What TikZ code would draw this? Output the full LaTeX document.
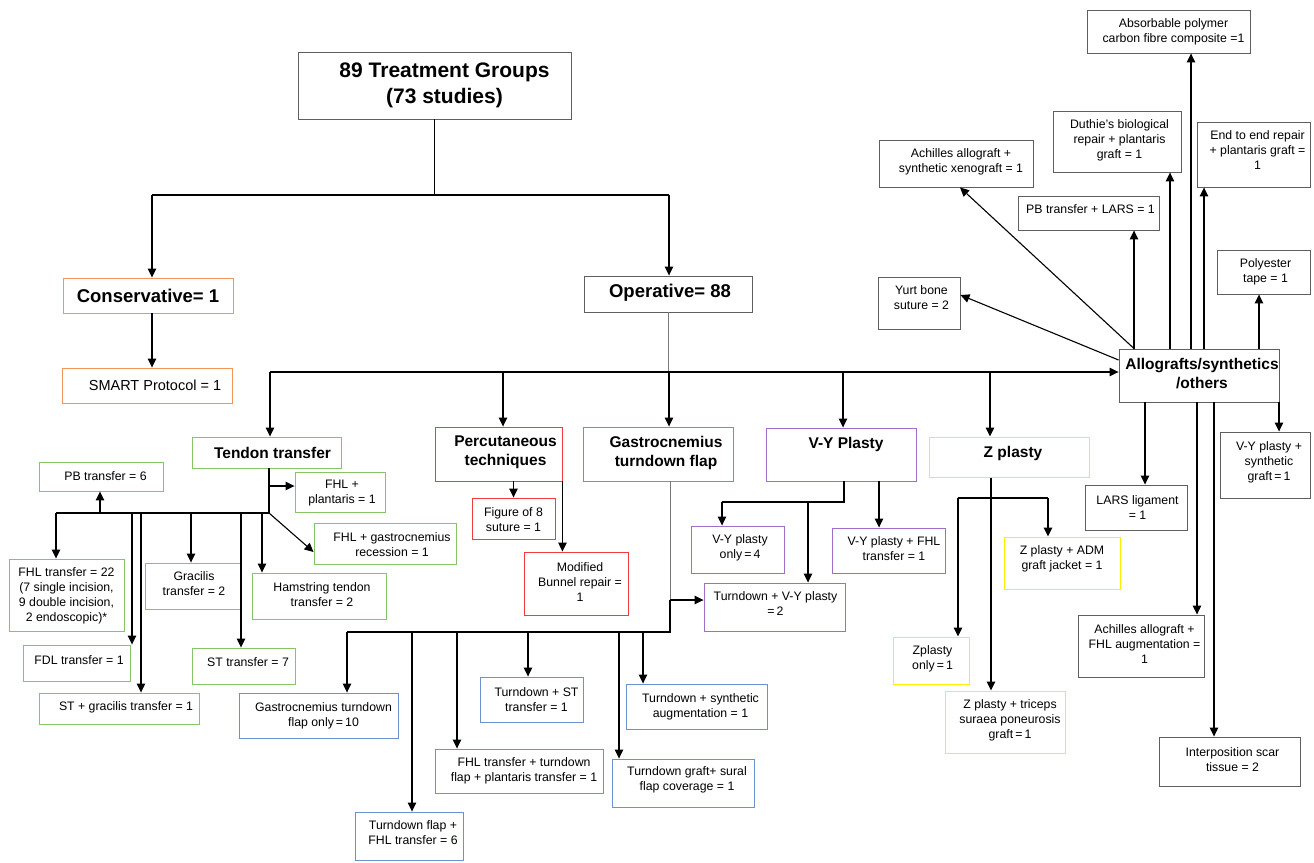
\documentclass[tikz,border=0pt]{standalone}
\usepackage{fontspec}
\setmainfont{Liberation Sans}
\usetikzlibrary{arrows.meta}
\definecolor{cgreen}{RGB}{135,195,105}
\definecolor{cred}{RGB}{240,60,60}
\definecolor{cblue}{RGB}{110,145,210}
\definecolor{cpurple}{RGB}{160,110,200}
\definecolor{cyellow}{RGB}{250,240,0}
\definecolor{corange}{RGB}{240,150,90}
\definecolor{cgray}{RGB}{95,95,95}
\definecolor{cline}{RGB}{120,120,120}
\newcommand\bx[9]{%
 \node[box,#1,minimum width={(#5-#3)*1pt},minimum height={(#6-#4)*1pt}] (#2) at ({(#3+#5)/2},{(#4+#6)/2}) {};
 \node[#1,txt] (#2-t) at ({(#3+#5)/2+#7},{(#4+#6)/2+#8}) {#9};}
\begin{document}
\begin{tikzpicture}[x=1pt,y=-1pt,font=\fontsize{12.3}{15}\selectfont,
 box/.style={draw,line width=0.9pt,inner sep=0pt},
 txt/.style={draw=none,fill=none,inner sep=0pt,align=center},
 gbox/.style={draw=cgreen},rbox/.style={draw=cred},bbox/.style={draw=cblue},
 pbox/.style={draw=cpurple},ybox/.style={draw=cyellow,line width=1pt},obox/.style={draw=corange},
 kbox/.style={draw=cgray},
 head/.style={font=\fontsize{15.5}{19}\selectfont\bfseries},
 mid/.style={font=\fontsize{18.5}{22}\selectfont\bfseries},
 big/.style={font=\fontsize{21}{26}\selectfont\bfseries},
 smart/.style={font=\fontsize{14.5}{17}\selectfont},
 ln/.style={line width=1.1pt},
 gln/.style={line width=0.8pt,draw=cline},
 arr/.style={line width=1.1pt,-{Triangle[length=9pt,width=8.5pt]}}]
\fill[white] (0,0) rectangle (1314,862);
\useasboundingbox (0,0) rectangle (1314,862);
% top levels
\bx{kbox,big}{root}{298}{52}{571}{119}{10}{0}{89 Treatment Groups\\(73 studies)}
\bx{obox,mid}{cons}{63}{278}{233}{313}{0}{0}{Conservative= 1}
\bx{obox,smart}{smart}{62}{368}{232}{403}{8}{0}{SMART Protocol = 1}
\bx{kbox,mid}{oper}{584}{276}{752}{312}{2}{-1}{Operative= 88}
\bx{gbox,head}{tendon}{192}{437}{341}{468}{6}{0}{Tendon transfer}
\bx{rbox,head}{percut}{435}{427}{562}{481}{7}{-1.5}{Percutaneous\\techniques}
\bx{bbox,head}{gastro}{583}{427}{733}{481}{8}{-1.5}{Gastrocnemius\\turndown flap}
\bx{pbox,head}{vyp}{766}{428}{916}{481}{5}{-10}{V-Y Plasty}
\bx{ybox,head}{zp}{929}{437}{1089}{477}{4}{-4}{Z plasty}
\bx{kbox,head}{allo}{1119}{349}{1279}{402}{3}{-1.5}{Allografts/synthetics\\/others}
% tendon transfer children
\bx{gbox}{pb}{39}{462}{163}{491}{4.5}{0}{PB transfer = 6}
\bx{gbox}{fhlp}{295}{472}{385}{512}{2}{1}{FHL +\\plantaris = 1}
\bx{gbox}{fhlt}{9}{559}{124}{631}{0}{0.5}{FHL transfer = 22\\(7 single incision,\\9 double incision,\\2 endoscopic)*}
\bx{gbox}{fdl}{23}{645}{130}{681}{2.5}{-3}{FDL transfer = 1}
\bx{gbox}{stg}{39}{693}{199}{724}{7}{-1.5}{ST + gracilis transfer = 1}
\bx{gbox}{grac}{145}{563}{240}{609}{1.5}{-2}{Gracilis\\transfer = 2}
\bx{gbox}{st}{192}{648}{295}{684}{4.5}{-4}{ST transfer = 7}
\bx{gbox}{ham}{252}{573}{386}{619}{3}{-1}{Hamstring tendon\\transfer = 2}
\bx{gbox}{fhlg}{314}{523}{456}{564}{7}{1}{FHL + gastrocnemius\\recession = 1}
% percutaneous children
\bx{rbox}{fig8}{472}{498}{555}{539}{0}{1.5}{Figure of 8\\suture = 1}
\bx{rbox}{bunnel}{524}{552}{628}{615}{4}{-1.5}{Modified\\Bunnel repair =\\1}
% gastrocnemius children
\bx{bbox}{gonly}{239}{693}{398}{738}{5}{0}{Gastrocnemius turndown\\flap only\,=\,10}
\bx{bbox}{tdfhl}{355}{812}{463}{860}{4}{-3}{Turndown flap +\\FHL transfer = 6}
\bx{bbox}{fhltd}{435}{749}{603}{793}{5}{0}{FHL transfer + turndown\\flap + plantaris transfer = 1}
\bx{bbox}{tdst}{480}{677}{583}{722}{5}{0}{Turndown + ST\\transfer = 1}
\bx{bbox}{tdsural}{612}{759}{754}{807}{4}{-3}{Turndown graft+ sural\\flap coverage = 1}
\bx{bbox}{tdsyn}{626}{684}{767}{729}{4}{0}{Turndown + synthetic\\augmentation = 1}
\bx{pbox}{tdvy}{704}{583}{845}{631}{1}{-3}{Turndown + V-Y plasty\\=\,2}
% V-Y children
\bx{pbox}{vyonly}{691}{526}{784}{573}{2.5}{-2}{V-Y plasty\\only\,=\,4}
\bx{pbox}{vyfhl}{832}{528}{945}{573}{5.5}{-2}{V-Y plasty + FHL\\transfer = 1}
% Z children
\bx{ybox}{zonly}{893}{637}{969}{684}{1.5}{-1.5}{Zplasty\\only\,=\,1}
\bx{ybox}{ztri}{945}{691}{1065}{753}{5}{-2}{Z plasty + triceps\\suraea poneurosis\\graft\,=\,1}
\bx{ybox}{zadm}{1004}{537}{1120}{589}{0}{-4.5}{Z plasty + ADM\\graft jacket = 1}
% allograft children
\bx{kbox}{absorb}{1087}{10}{1250}{53}{5}{0}{Absorbable polymer\\carbon fibre composite =1}
\bx{kbox}{duthie}{1053}{111}{1181}{172}{2.5}{-1.5}{Duthie’s biological\\repair + plantaris\\graft = 1}
\bx{kbox}{endend}{1197}{122}{1310}{187}{4}{-4}{End to end repair\\+ plantaris graft =\\1}
\bx{kbox}{achsyn}{879}{140}{1033}{187}{5}{-1.5}{Achilles allograft +\\synthetic xenograft = 1}
\bx{kbox}{pblars}{1018}{196}{1159}{230}{2}{-4}{PB transfer + LARS = 1}
\bx{kbox}{poly}{1217}{250}{1310}{294}{2}{0}{Polyester\\tape = 1}
\bx{kbox}{yurt}{878}{277}{960}{329}{2.5}{-5}{Yurt bone\\suture = 2}
\bx{kbox}{lars}{1085}{485}{1187}{530}{1.5}{0}{LARS ligament\\= 1}
\bx{kbox}{vysyn}{1220}{432}{1310}{498}{4}{-2.5}{V-Y plasty +\\synthetic\\graft\,=\,1}
\bx{kbox}{achfhl}{1078}{615}{1204}{677}{3.5}{-1.5}{Achilles allograft +\\FHL augmentation =\\1}
\bx{kbox}{scar}{1159}{737}{1300}{786}{3}{-2}{Interposition scar\\tissue = 2}
% ---- connectors: top
\coordinate (cL) at (152,195);
\coordinate (cR) at (669,195);
\draw[ln] (root.south) -- (root.south |- cL);
\draw[ln] (cL) -- (cR);
\draw[arr] (cL) -- (cL |- cons.north);
\draw[arr] (cR) -- (cR |- oper.north);
\draw[arr] (cL |- cons.south) -- (cL |- smart.north);
% operative bus
\coordinate (bT) at (270,372);
\coordinate (bP) at (503,372);
\coordinate (bG) at (669,372);
\coordinate (bV) at (843,372);
\coordinate (bZ) at (990,372);
\draw[gln] (oper.south) -- (oper.south |- bG);
\draw[arr] (bT) -- (bT -| allo.west);
\draw[arr] (bT) -- (bT |- tendon.north);
\draw[arr] (bP) -- (bP |- percut.north);
\draw[arr] (bG) -- (bG |- gastro.north);
\draw[arr] (bV) -- (bV |- vyp.north);
\draw[arr] (bZ) -- (bZ |- zp.north);
% tendon transfer
\coordinate (t1) at (269,513);
\coordinate (t0) at (269,486);
\coordinate (tL) at (56,513);
\coordinate (tpb) at (100,513);
\coordinate (tfdl) at (132,513);
\coordinate (tstg) at (141,513);
\coordinate (tgr) at (191,513);
\coordinate (tst) at (241,513);
\coordinate (tham) at (262,513);
\draw[ln] (t1 |- tendon.south) -- (t1) -- (tL);
\draw[arr] (t0) -- (t0 -| fhlp.west);
\draw[arr] (tL) -- (tL |- fhlt.north);
\draw[arr] (tpb) -- (tpb |- pb.south);
\draw[arr] (tfdl) -- (tfdl |- fdl.north);
\draw[arr] (tstg) -- (tstg |- stg.north);
\draw[arr] (tgr) -- (tgr |- grac.north);
\draw[arr] (tst) -- (tst |- st.north);
\draw[arr] (tham) -- (tham |- ham.north);
\draw[arr] (t1) -- ([yshift=-8.5pt]fhlg.west);
% percutaneous
\draw[arr] (fig8.north |- percut.south) -- (fig8.north);
\draw[arr] (percut.south east) -- (percut.south east |- bunnel.north);
% gastrocnemius
\coordinate (g1) at (670,632);
\coordinate (g2) at (670,600);
\coordinate (gA) at (347,632);
\coordinate (gB) at (412,632);
\coordinate (gC) at (457,632);
\coordinate (gD) at (528,632);
\coordinate (gE) at (619,632);
\coordinate (gF) at (643,632);
\draw[gln] (g1 |- gastro.south) -- (g2);
\draw[ln] (g2) -- (g1) -- (gA);
\draw[arr] (g2) -- (g2 -| tdvy.west);
\draw[arr] (gA) -- (gA |- gonly.north);
\draw[arr] (gB) -- (gB |- tdfhl.north);
\draw[arr] (gC) -- (gC |- fhltd.north);
\draw[arr] (gD) -- (gD |- tdst.north);
\draw[arr] (gE) -- (gE |- tdsural.north);
\draw[arr] (gF) -- (gF |- tdsyn.north);
% V-Y
\coordinate (v1) at (844,502);
\coordinate (vL) at (722,502);
\coordinate (v2) at (808,502);
\coordinate (v3) at (879,500);
\draw[ln] (v1 |- vyp.south) -- (v1) -- (vL);
\draw[arr] (vL) -- (vL |- vyonly.north);
\draw[arr] (v2) -- (v2 |- tdvy.north);
\draw[arr] (v3 |- vyp.south) -- (v3 |- vyfhl.north);
% Z
\coordinate (z1) at (991,498);
\coordinate (zL) at (958,498);
\coordinate (zR) at (1048,498);
\draw[ln] (z1 |- zp.south) -- (z1);
\draw[ln] (zL) -- (zR);
\draw[arr] (zL) -- (zL |- zonly.north);
\draw[arr] (zR) -- (zR |- zadm.north);
\draw[arr] (z1) -- (z1 |- ztri.north);
% allografts
\coordinate (a1) at (1134,360);
\coordinate (a2) at (1170,360);
\coordinate (a3) at (1191,360);
\coordinate (a4) at (1204,360);
\coordinate (a5) at (1259,360);
\coordinate (a6) at (1145,420);
\coordinate (a7) at (1197,420);
\coordinate (a8) at (1214,420);
\coordinate (a9) at (1279,420);
\draw[arr] (a1 |- allo.north) -- (a1 |- pblars.south);
\draw[arr] (a2 |- allo.north) -- (a2 |- duthie.south);
\draw[arr] (a3 |- allo.north) -- (a3 |- absorb.south);
\draw[arr] (a4 |- allo.north) -- (a4 |- endend.south);
\draw[arr] (a5 |- allo.north) -- (a5 |- poly.south);
\draw[arr] (a1 |- allo.north) -- ([xshift=4pt]achsyn.south);
\draw[arr] ([yshift=15.5pt]allo.west) -- ([yshift=8pt]yurt.east);
\draw[arr] (a6 |- allo.south) -- (a6 |- lars.north);
\draw[arr] (a7 |- allo.south) -- (a7 |- achfhl.north);
\draw[arr] (a8 |- allo.south) -- (a8 |- scar.north);
\draw[arr] (a9 |- allo.south) -- (a9 |- vysyn.north);
\end{tikzpicture}
\end{document}
